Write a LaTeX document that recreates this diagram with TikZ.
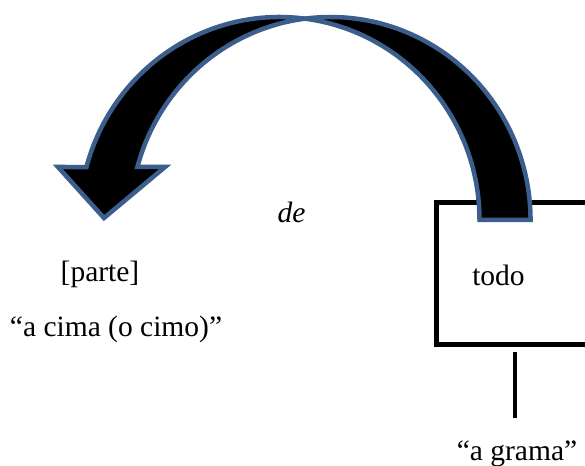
\documentclass[tikz,border=0pt]{standalone}
\usepackage{fontspec}
\setmainfont{Liberation Serif}
\newfontfamily\labelfont{Liberation Serif}
\definecolor{arrowedge}{RGB}{59,94,140}
\begin{document}
\begin{tikzpicture}[x=1pt,y=1pt,
  label/.style={font=\labelfont\fontsize{29.5}{35}\selectfont, inner sep=0pt, anchor=base},
  framebox/.style={draw=black, line width=4.5, line join=miter},
  stem/.style={draw=black, line width=4.5},
  bigarrow/.style={fill=black, draw=arrowedge, line width=4.5, line join=miter}]
\useasboundingbox (0,0) rectangle (585,465);
\clip (0,0) rectangle (585,465);

% frame around "todo" (runs past the right edge)
\draw[framebox] (620,262.5) -- (436.5,262.5) -- (436.5,120.5) -- (620,120.5);
\node[label] (todo) at (498.5,179) {todo};

% stem below the frame
\coordinate (stemtop) at (515,112.5);
\coordinate (stembot) at (515,47);
\draw[stem] (stemtop) -- (stembot);

% curved arrow: two congruent ellipses offset sideways
% right crescent (tail)
\path[bigarrow] (479.5,245)
  arc[start angle=0, end angle=82.67, x radius=200, y radius=203]
  coordinate (apex)
  arc[start angle=97.33, end angle=0, x radius=200, y radius=203]
  -- cycle;
% left crescent with the arrowhead
\path[bigarrow] (apex)
  arc[start angle=82.67, end angle=164.87, x radius=200, y radius=203]
  -- (58,298) coordinate (wingL)
  -- (104,247) coordinate (tip)
  -- (165,298) coordinate (wingR)
  -- (137.4,298)
  arc[start angle=164.87, end angle=97.33, x radius=200, y radius=203]
  -- cycle;

\node[label, font=\labelfont\fontsize{29.5}{35}\selectfont\itshape] (de) at (291.5,242) {de};
\node[label] (parte) at (100,183.5) {[parte]};
\node[label] (cima) at (116,128.5) {“a cima (o cimo)”};
\node[label] (grama) at (517,5) {“a grama”};
\end{tikzpicture}
\end{document}
